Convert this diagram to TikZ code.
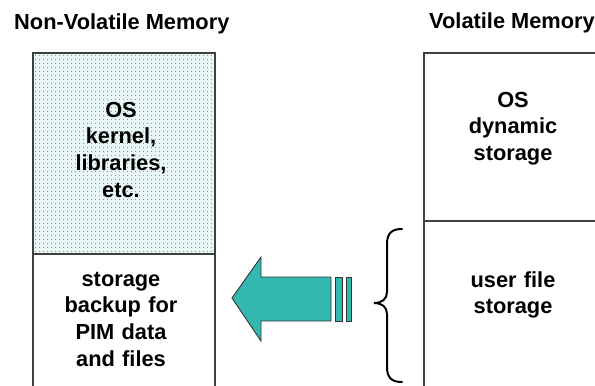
\documentclass[tikz,border=0pt]{standalone}
\usepackage{fontspec}
\setmainfont{Liberation Sans}
\begin{document}
\begin{tikzpicture}[x=1bp,y=-1bp,
  txt/.style={font=\fontsize{21.8bp}{26.7bp}\selectfont\bfseries, align=center, text width=170bp, inner sep=0pt, anchor=base},
  ttl/.style={font=\fontsize{21.8bp}{26.7bp}\selectfont\bfseries, inner sep=0pt, anchor=base west},
  memcell/.style={draw=black!75, line width=1.3bp, minimum width=182bp, inner sep=0pt},
  dotc/.style={fill=dotteal},
  arrowbody/.style={fill=arrowteal, draw=black!80, line width=0.9bp, line join=miter},
  bracestyle/.style={draw=black, line width=2bp, line cap=round}
]
\definecolor{arrowteal}{RGB}{51,184,176}
\definecolor{dotteal}{RGB}{40,195,180}
\definecolor{tintteal}{RGB}{232,247,245}
\path[use as bounding box, clip] (0,0) rectangle (595,385);
\fill[white] (0,0) rectangle (595,385);

% titles
\node[ttl] (nvtitle) at (14,29) {Non-Volatile Memory};
\node[ttl] (vtitle) at (429,28) {Volatile Memory};

% dotted fill of the non-volatile OS area
\begin{scope}
  \clip (33,53) rectangle (215,254);
  \fill[tintteal] (33,53) rectangle (215,254);
  \foreach \i in {0,...,45} {
    \foreach \j in {0,...,50} {
      \fill[dotc] ({35+4*\i},{55+4*\j}) rectangle ++(1.4,1.4);
    }
  }
\end{scope}

% memory cells
\node[memcell, minimum height=201bp] (nvtop) at (124,153.5) {};
\node[memcell, minimum height=146bp] (nvbot) at (124,327) {};
\node[memcell, minimum height=168bp] (vtop) at (515,137) {};
\node[memcell, minimum height=179bp] (vbot) at (515,310.5) {};

% texts
\node[txt] (nvtoptext) at (121,117) {OS\\kernel,\\libraries,\\etc.};
\node[txt] (nvbottext) at (121,286) {storage\\backup for\\PIM data\\and files};
\node[txt] (vtoptext) at (513,107) {OS\\dynamic\\storage};
\node[txt] (vbottext) at (513,287) {user file\\storage};

% big arrow
\draw[arrowbody] (232,298) -- (261,257) -- (261,277) -- (331,277) -- (331,321)
  -- (261,321) -- (261,341) -- cycle;
\draw[arrowbody] (335,277) rectangle (342,321);
\draw[arrowbody] (346,277) rectangle (351,321);

% brace
\draw[bracestyle] (402,229) .. controls (392,229) and (387,233) .. (387,244)
  -- (387,292) .. controls (387,299) and (382,303) .. (374,303)
  .. controls (382,303) and (387,307) .. (387,314)
  -- (387,367) .. controls (387,378) and (392,382) .. (402,382);
\end{tikzpicture}
\end{document}
